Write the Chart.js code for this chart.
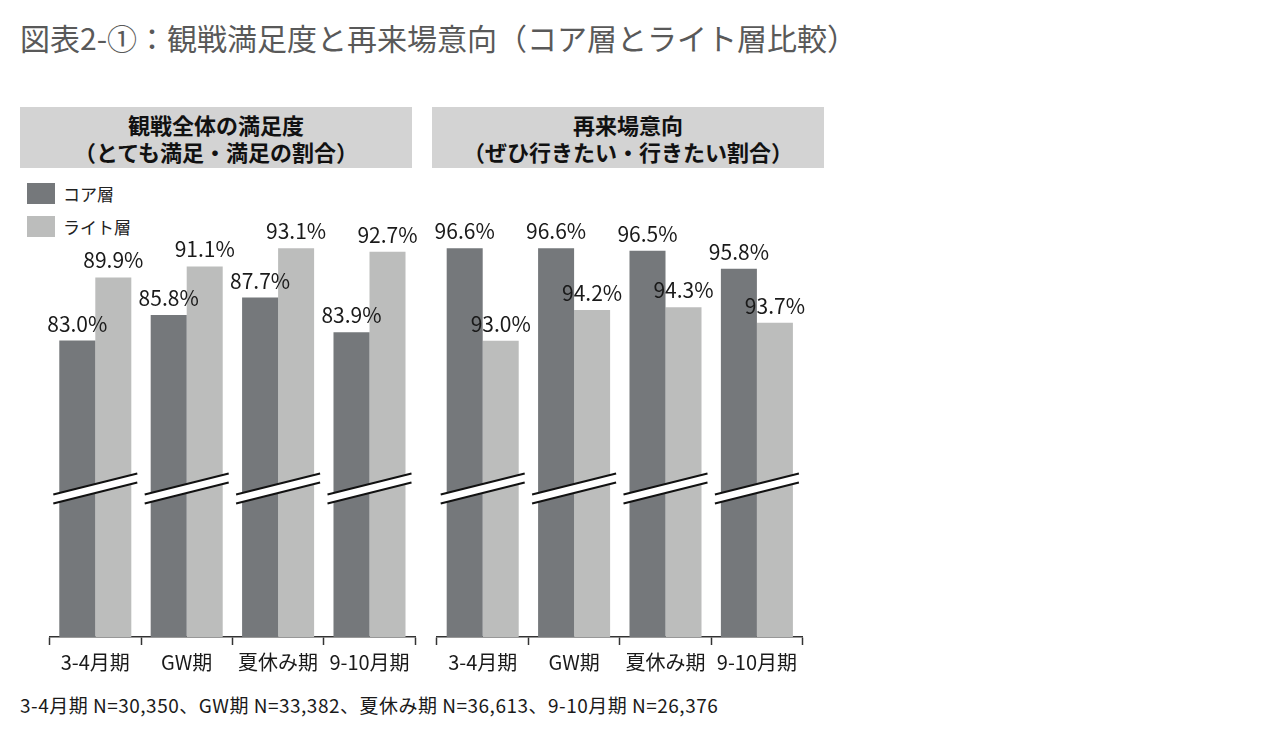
<!DOCTYPE html>
<html lang="ja">
<head>
<meta charset="utf-8">
<script src="https://cdn.jsdelivr.net/npm/chart.js@4.4.1/dist/chart.umd.min.js"></script>
<style>
  html, body { margin: 0; padding: 0; background: #fff; }
  body { width: 1280px; height: 738px; position: relative; overflow: hidden;
         font-family: "Noto Sans CJK JP", "Noto Sans", sans-serif; color: #1a1a1a; }
  .title { position: absolute; left: 20px; top: 20px; font-size: 30px; line-height: 34px;
           color: #595959; white-space: nowrap; }
  .head { position: absolute; top: 107px; width: 392px; height: 61px; background: #d3d3d3;
          text-align: center; font-weight: bold; font-size: 22px; line-height: 27px;
          box-sizing: border-box; padding-top: 4px; color: #111; }
  .legend { position: absolute; left: 27px; font-size: 17px; line-height: 21px; color: #222; }
  .legend span { display: inline-block; width: 28px; height: 21px; vertical-align: top; margin-right: 8px; }
  .note { position: absolute; left: 20px; top: 693px; font-size: 19px; line-height: 24px;
          letter-spacing: 0.5px; color: #1a1a1a; white-space: nowrap; }
  canvas { position: absolute; }
</style>
</head>
<body>
<div class="title">図表2-①：観戦満足度と再来場意向（コア層とライト層比較）</div>
<div class="head" style="left:20px">観戦全体の満足度<br>（とても満足・満足の割合）</div>
<div class="head" style="left:432px">再来場意向<br>（ぜひ行きたい・行きたい割合）</div>
<div class="legend" id="lg0" style="top:183px"></div>
<div class="legend" id="lg1" style="top:216px"></div>
<canvas id="c1" width="390" height="500" style="left:40px;top:190px"></canvas>
<canvas id="c2" width="390" height="500" style="left:428px;top:190px"></canvas>
<div class="note">3-4月期 N=30,350、GW期 N=33,382、夏休み期 N=36,613、9-10月期 N=26,376</div>
<script>
const categories = ["3-4月期", "GW期", "夏休み期", "9-10月期"];
const seriesNames = ["コア層", "ライト層"];
const satisfactionCore = [83.0, 85.8, 87.7, 83.9];
const satisfactionLight = [89.9, 91.1, 93.1, 92.7];
const revisitCore = [96.6, 96.6, 96.5, 95.8];
const revisitLight = [93.0, 94.2, 94.3, 93.7];

const coreColor = "#75787b";
const lightColor = "#bcbdbc";

Chart.defaults.font.family = '"Noto Sans CJK JP", "Noto Sans", sans-serif';

// legend (html)
[coreColor, lightColor].forEach((c, i) => {
  const el = document.getElementById("lg" + i);
  el.innerHTML = `<span style="background:${c}"></span>${seriesNames[i]}`;
});

// value labels above bars
const valueLabels = {
  id: "valueLabels",
  afterDatasetsDraw(chart) {
    const { ctx } = chart;
    ctx.save();
    ctx.font = '21px "Noto Sans CJK JP", "Noto Sans", sans-serif';
    ctx.fillStyle = "#1a1a1a";
    ctx.textAlign = "center";
    ctx.textBaseline = "alphabetic";
    chart.data.datasets.forEach((ds, di) => {
      chart.getDatasetMeta(di).data.forEach((bar, i) => {
        ctx.fillText(ds.data[i].toFixed(1) + "%", bar.x, bar.y - 9);
      });
    });
    ctx.restore();
  },
};

// axis break marks across each group
const breakMarks = {
  id: "breakMarks",
  afterDatasetsDraw(chart) {
    const { ctx, chartArea } = chart;
    const xs = chart.scales.x;
    const yc = chartArea.bottom - 153;
    ctx.save();
    chart.data.labels.forEach((_, i) => {
      const cx = xs.getPixelForValue(i);
      const x0 = cx - 42, x1 = cx + 42;
      const rise = 10.5, gap = 9;
      ctx.fillStyle = "#fff";
      ctx.beginPath();
      ctx.moveTo(x0, yc + rise);
      ctx.lineTo(x1, yc - rise);
      ctx.lineTo(x1, yc - rise + gap);
      ctx.lineTo(x0, yc + rise + gap);
      ctx.closePath();
      ctx.fill();
      ctx.strokeStyle = "#111";
      ctx.lineWidth = 2;
      ctx.beginPath();
      ctx.moveTo(x0, yc + rise);
      ctx.lineTo(x1, yc - rise);
      ctx.moveTo(x0, yc + rise + gap);
      ctx.lineTo(x1, yc - rise + gap);
      ctx.stroke();
    });
    ctx.restore();
  },
};

function makeChart(id, core, light, yMin, yMax, padLeft, padRight) {
  return new Chart(document.getElementById(id), {
    type: "bar",
    data: {
      labels: categories,
      datasets: [
        { label: seriesNames[0], data: core, backgroundColor: coreColor },
        { label: seriesNames[1], data: light, backgroundColor: lightColor },
      ],
    },
    options: {
      responsive: false,
      animation: false,
      layout: { padding: { top: 10, bottom: 3, left: padLeft, right: padRight } },
      datasets: { bar: { categoryPercentage: 0.788, barPercentage: 1.0 } },
      plugins: { legend: { display: false }, tooltip: { enabled: false } },
      scales: {
        x: {
          grid: { offset: true, drawOnChartArea: false, drawTicks: true, tickLength: 8,
                  tickColor: "#333", tickWidth: 1.5 },
          border: { display: true, color: "#333", width: 1.5 },
          ticks: { font: { size: 20 }, color: "#1a1a1a", padding: 5, maxRotation: 0 },
          afterFit(s) { s.height = 50; },
        },
        y: { display: false, min: yMin, max: yMax },
      },
    },
    plugins: [breakMarks, valueLabels],
  });
}

makeChart("c1", satisfactionCore, satisfactionLight, 50.6, 98.36, 9.6, 14.8);
makeChart("c2", revisitCore, revisitLight, 81.46, 98.48, 9, 15.4);
</script>
</body>
</html>
